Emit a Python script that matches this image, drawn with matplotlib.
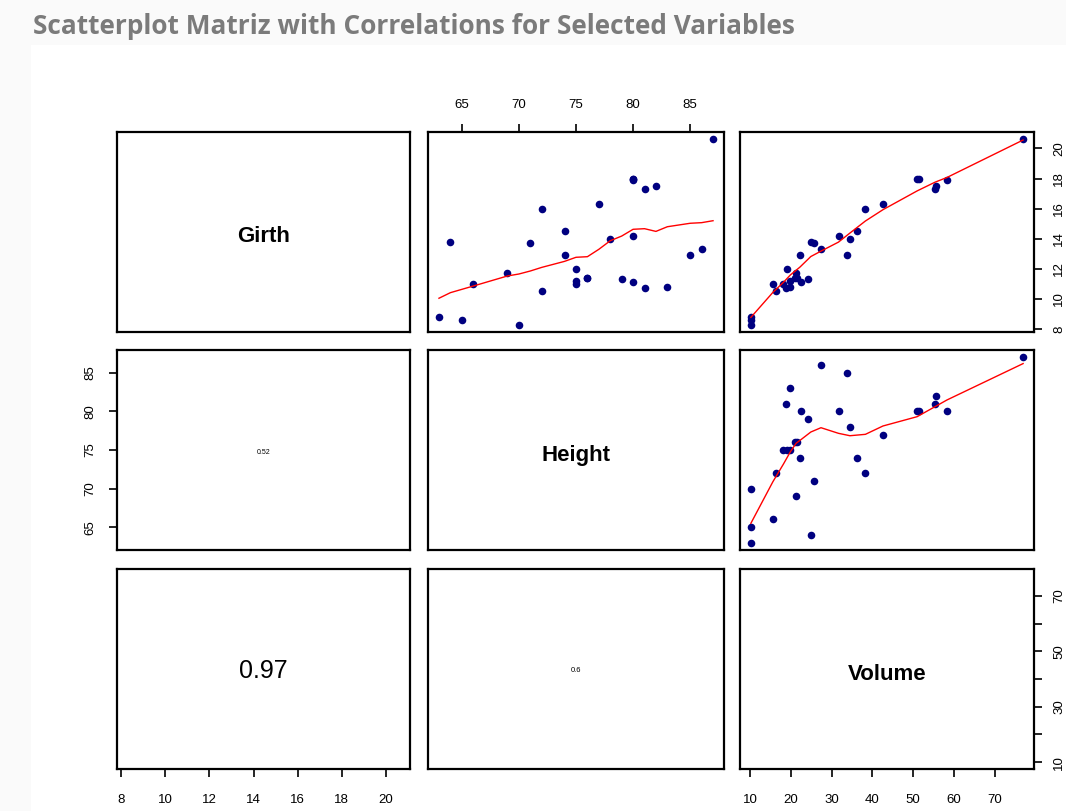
import matplotlib
matplotlib.use("Agg")
import matplotlib.pyplot as plt
from matplotlib.patches import Rectangle

# trees data (Girth, Height, Volume)
girth = [8.3, 8.6, 8.8, 10.5, 10.7, 10.8, 11.0, 11.0, 11.1, 11.2, 11.3, 11.4, 11.4, 11.7, 12.0, 12.9,
         12.9, 13.3, 13.7, 13.8, 14.0, 14.2, 14.5, 16.0, 16.3, 17.3, 17.5, 17.9, 18.0, 18.0, 20.6]
height = [70, 65, 63, 72, 81, 83, 66, 75, 80, 75, 79, 76, 76, 69, 75, 74,
          85, 86, 71, 64, 78, 80, 74, 72, 77, 81, 82, 80, 80, 80, 87]
volume = [10.3, 10.3, 10.2, 16.4, 18.8, 19.7, 15.6, 18.2, 22.6, 19.9, 24.2, 21.0, 21.4, 21.3, 19.1, 22.2,
          33.8, 27.4, 25.7, 24.9, 34.5, 31.7, 36.3, 38.3, 42.6, 55.4, 55.7, 58.3, 51.5, 51.0, 77.0]

# smoother lines
smooth_gh_x = [63, 64, 65, 66, 69, 70, 71, 72, 74, 75, 76, 77, 78, 79, 80, 81, 82, 83, 85, 86, 87]
smooth_gh_y = [10.05, 10.42, 10.64, 10.86, 11.53, 11.66, 11.86, 12.10, 12.50, 12.77, 12.81, 13.30,
               13.87, 14.18, 14.63, 14.67, 14.49, 14.80, 15.03, 15.07, 15.20]
smooth_gv_x = [10.2, 15.6, 18.2, 19.9, 22.2, 24.9, 27.4, 31.7, 34.5, 38.3, 42.6, 51.0, 55.4, 58.3, 77.0]
smooth_gv_y = [8.78, 10.44, 11.11, 11.6, 12.11, 12.82, 13.18, 13.78, 14.38, 15.18, 15.93, 17.18,
               17.76, 18.07, 20.56]
smooth_hv_x = [10.2, 15.6, 18.2, 19.9, 21.3, 22.6, 24.9, 27.4, 31.7, 34.5, 38.3, 42.6, 51.0, 55.4, 58.3, 77.0]
smooth_hv_y = [65.5, 70.89, 73.19, 74.78, 75.87, 76.39, 77.33, 77.89, 77.16, 76.85, 77.03, 78.11,
               79.32, 80.62, 81.48, 86.2]

names = ["Girth", "Height", "Volume"]
corr_labels = {(1, 0): "0.52", (2, 0): "0.97", (2, 1): "0.6"}
corr_sizes = {(1, 0): 5, (2, 0): 18, (2, 1): 5.5}

girth_ticks = [8, 10, 12, 14, 16, 18, 20]
height_ticks = [65, 70, 75, 80, 85]
volume_ticks = [10, 20, 30, 40, 50, 60, 70]
volume_ticklabels = ["10", "", "30", "", "50", "", "70"]

data = [girth, height, volume]


def rlim(v):
    lo, hi = min(v), max(v)
    d = (hi - lo) * 0.04
    return lo - d, hi + d


lims = [rlim(v) for v in data]

W, H = 1066, 811
fig = plt.figure(figsize=(W / 100, H / 100), dpi=100, facecolor="#fafafa")
fig.patches.append(Rectangle((31 / W, 0), 1, 1 - 45 / H, transform=fig.transFigure,
                             facecolor="white", edgecolor="none", zorder=-10))
fig.text(33 / W, 1 - 27 / H, "Scatterplot Matriz with Correlations for Selected Variables",
         fontsize=18.9, fontweight="bold", color="#7b7b7b", family="Open Sans", va="center")

xs = [117, 428, 740]
ws = [293, 296, 294]
ys = [132, 350, 569]
hs = [200, 200, 200]

plt.rcParams["font.family"] = ["Liberation Sans", "DejaVu Sans"]
tick_kw = dict(length=6, width=1.2, labelsize=9.5)

smooth = {(0, 1): (smooth_gh_x, smooth_gh_y),
          (0, 2): (smooth_gv_x, smooth_gv_y),
          (1, 2): (smooth_hv_x, smooth_hv_y)}

for i in range(3):
    for j in range(3):
        ax = fig.add_axes([xs[j] / W, 1 - (ys[i] + hs[i]) / H, ws[j] / W, hs[i] / H])
        ax.set_xlim(lims[j])
        ax.set_ylim(lims[i])
        for s in ax.spines.values():
            s.set_linewidth(1.6)
        ax.set_xticks([])
        ax.set_yticks([])
        if i == j:
            ax.text(0.5, 0.475, names[i], transform=ax.transAxes, ha="center", va="center",
                    fontsize=16, fontweight="bold")
        elif i < j:
            ax.scatter(data[j], data[i], s=30, color="#000080", zorder=3, linewidths=0)
            sx, sy = smooth[(i, j)]
            ax.plot(sx, sy, color="red", lw=1.0, zorder=4)
        else:
            ax.text(0.5, 0.49, corr_labels[(i, j)], transform=ax.transAxes, ha="center",
                    va="center", fontsize=corr_sizes[(i, j)])

        # R-style outer axes
        if i == 2 and j == 0:
            ax.set_xticks(girth_ticks)
            ax.tick_params(axis="x", bottom=True, labelbottom=True, pad=12, **tick_kw)
        if i == 2 and j == 2:
            ax.set_xticks(volume_ticks)
            ax.tick_params(axis="x", bottom=True, labelbottom=True, pad=12, **tick_kw)
            ax.set_yticks(volume_ticks)
            ax.set_yticklabels(volume_ticklabels, rotation=90, va="center")
            ax.tick_params(axis="y", left=False, labelleft=False, right=True, labelright=True,
                           pad=8, **tick_kw)
        if i == 0 and j == 1:
            ax.set_xticks(height_ticks)
            ax.tick_params(axis="x", bottom=False, labelbottom=False, top=True, labeltop=True,
                           pad=9, **tick_kw)
        if i == 0 and j == 2:
            ax.set_yticks(girth_ticks)
            ax.set_yticklabels([str(t) for t in girth_ticks], rotation=90, va="center")
            ax.tick_params(axis="y", left=False, labelleft=False, right=True, labelright=True,
                           pad=8, **tick_kw)
        if i == 1 and j == 0:
            ax.set_yticks(height_ticks)
            ax.set_yticklabels([str(t) for t in height_ticks], rotation=90, va="center")
            ax.tick_params(axis="y", left=True, labelleft=True, pad=9, **tick_kw)

fig.savefig("out.png", dpi=100, facecolor=fig.get_facecolor())
